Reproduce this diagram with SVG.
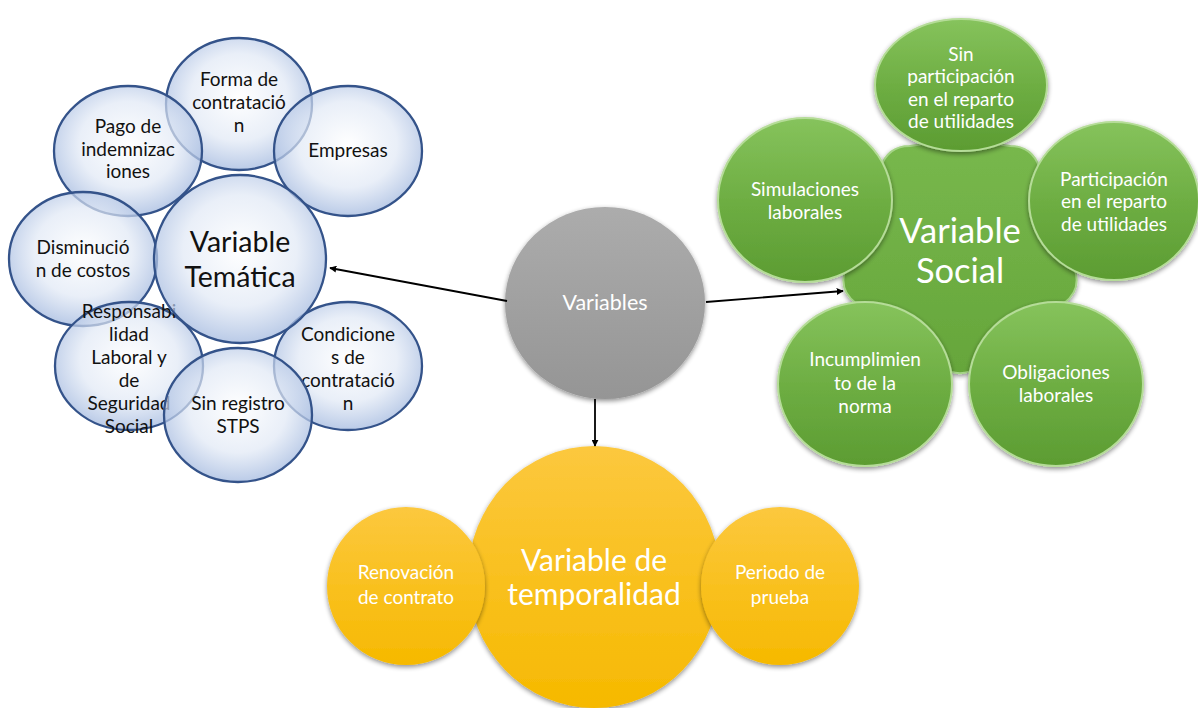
<svg xmlns="http://www.w3.org/2000/svg" width="1198" height="708" viewBox="0 0 1198 708">
  <defs>
    <style>
      .t { font-family: Lato, "Open Sans", "Liberation Sans", sans-serif; text-anchor: middle; }
      .blue { fill: url(#gBlue); stroke: #34538a; stroke-width: 2.3; }
      .bt { fill: #111; font-size: 19px; }
      .green { fill: url(#gGreen); stroke: #b5dc98; stroke-width: 2; filter: url(#shadow); }
      .wt { fill: #ffffff; font-size: 19px; }
      .yellow { fill: url(#gYellow); filter: url(#shadow); }
      .conn { stroke: #000; stroke-width: 1.8; fill: none; marker-end: url(#arrow); }
    </style>
    <radialGradient id="gBlue" cx="50%" cy="45%" r="55%">
      <stop offset="0" stop-color="#ffffff" stop-opacity="0.75"/>
      <stop offset="0.6" stop-color="#e0e8f5" stop-opacity="0.7"/>
      <stop offset="1" stop-color="#a3b9df" stop-opacity="0.75"/>
    </radialGradient>
    <linearGradient id="gGreen" x1="0" y1="0" x2="0" y2="1">
      <stop offset="0" stop-color="#86c35c"/>
      <stop offset="0.5" stop-color="#6eae43"/>
      <stop offset="1" stop-color="#5c9c32"/>
    </linearGradient>
    <linearGradient id="gGreenC" gradientUnits="userSpaceOnUse" x1="0" y1="140" x2="0" y2="380">
      <stop offset="0" stop-color="#78b84d"/>
      <stop offset="1" stop-color="#65a53a"/>
    </linearGradient>
    <linearGradient id="gYellow" x1="0" y1="0" x2="0" y2="1">
      <stop offset="0" stop-color="#fcc83e"/>
      <stop offset="1" stop-color="#f6b900"/>
    </linearGradient>
    <linearGradient id="gGray" x1="0" y1="0" x2="0" y2="1">
      <stop offset="0" stop-color="#acacac"/>
      <stop offset="1" stop-color="#959595"/>
    </linearGradient>
    <filter id="shadow" x="-20%" y="-20%" width="140%" height="140%">
      <feGaussianBlur in="SourceAlpha" stdDeviation="2.5"/>
      <feOffset dx="0" dy="2" result="b"/>
      <feComponentTransfer><feFuncA type="linear" slope="0.45"/></feComponentTransfer>
      <feMerge><feMergeNode/><feMergeNode in="SourceGraphic"/></feMerge>
    </filter>
    <marker id="arrow" viewBox="0 0 10 10" refX="9" refY="5" markerWidth="7" markerHeight="7" orient="auto" markerUnits="userSpaceOnUse">
      <path d="M0,0 L10,5 L0,10 z" fill="#000"/>
    </marker>
  </defs>

  <rect width="1198" height="708" fill="#ffffff"/>

  <!-- Thematic cluster -->
  <g id="tematica">
    <g id="forma"><ellipse class="blue" cx="239" cy="104" rx="73" ry="66"/>
      <text class="t bt" x="239" y="86">Forma de</text><text class="t bt" x="239" y="109">contratació</text><text class="t bt" x="239" y="132">n</text></g>
    <g id="pago"><ellipse class="blue" cx="128" cy="151" rx="74" ry="65"/>
      <text class="t bt" x="128" y="133">Pago de</text><text class="t bt" x="128" y="156">indemnizac</text><text class="t bt" x="128" y="178">iones</text></g>
    <g id="empresas"><ellipse class="blue" cx="348" cy="151" rx="74" ry="65"/>
      <text class="t bt" x="348" y="157">Empresas</text></g>
    <g id="disminucion"><ellipse class="blue" cx="83" cy="259" rx="74" ry="67"/>
      <text class="t bt" x="83" y="254">Disminució</text><text class="t bt" x="83" y="277">n de costos</text></g>
    <g id="responsabilidad"><ellipse class="blue" cx="129" cy="366" rx="74" ry="64"/>
      <text class="t bt" x="129" y="318">Responsabi</text><text class="t bt" x="129" y="341">lidad</text><text class="t bt" x="129" y="364">Laboral y</text><text class="t bt" x="129" y="387">de</text><text class="t bt" x="129" y="410">Seguridad</text><text class="t bt" x="129" y="433">Social</text></g>
    <g id="condiciones"><ellipse class="blue" cx="348" cy="366" rx="74" ry="64"/>
      <text class="t bt" x="348" y="341">Condicione</text><text class="t bt" x="348" y="364">s de</text><text class="t bt" x="348" y="387">contratació</text><text class="t bt" x="348" y="410">n</text></g>
    <g id="sinregistro"><ellipse class="blue" cx="238" cy="415" rx="74" ry="67"/>
      <text class="t bt" x="238" y="410">Sin registro</text><text class="t bt" x="238" y="433">STPS</text></g>
    <g id="tematica-centro"><ellipse class="blue" cx="240" cy="259" rx="86" ry="84"/>
      <text class="t" x="240" y="252" font-size="28.5" fill="#111">Variable</text><text class="t" x="240" y="287" font-size="28.5" fill="#111">Temática</text></g>
  </g>

  <!-- Social cluster -->
  <g id="social">
    <g id="social-centro">
      <path d="M909.6,146 Q960,138 1010.4,146 Q1032,146 1039.5,167.6 Q1066.5,214.7 1074.5,268.4 Q1082,290 1063.7,303.5 Q1026.9,343 978.3,366.5 Q960,380 941.7,366.5 Q893.1,343 856.3,303.5 Q838,290 845.5,268.4 Q853.5,214.7 880.5,167.6 Q888,146 909.6,146 Z" fill="url(#gGreenC)" stroke="#a6d488" stroke-width="2" filter="url(#shadow)"/>
    </g>
    <g id="sinparticipacion"><ellipse class="green" cx="961" cy="85" rx="86" ry="66"/>
      <text class="t wt" x="961" y="61">Sin</text><text class="t wt" x="961" y="83">participación</text><text class="t wt" x="961" y="106">en el reparto</text><text class="t wt" x="961" y="128">de utilidades</text></g>
    <g id="simulaciones"><ellipse class="green" cx="805" cy="200" rx="87" ry="82"/>
      <text class="t wt" x="805" y="196">Simulaciones</text><text class="t wt" x="805" y="219">laborales</text></g>
    <g id="participacion"><ellipse class="green" cx="1114" cy="201" rx="85" ry="79"/>
      <text class="t wt" x="1114" y="186">Participación</text><text class="t wt" x="1114" y="208">en el reparto</text><text class="t wt" x="1114" y="231">de utilidades</text></g>
    <g id="incumplimiento"><ellipse class="green" cx="865" cy="384" rx="87" ry="82"/>
      <text class="t wt" x="865" y="366">Incumplimien</text><text class="t wt" x="865" y="390">to de la</text><text class="t wt" x="865" y="413">norma</text></g>
    <g id="obligaciones"><ellipse class="green" cx="1056" cy="384" rx="87" ry="82"/>
      <text class="t wt" x="1056" y="379">Obligaciones</text><text class="t wt" x="1056" y="402">laborales</text></g>
    <text class="t" x="960" y="243" font-size="34.5" fill="#fff">Variable</text>
    <text class="t" x="960" y="283" font-size="34.5" fill="#fff">Social</text>
  </g>

  <!-- Temporality cluster -->
  <g id="temporalidad">
    <g id="temporalidad-centro"><ellipse class="yellow" cx="594" cy="577" rx="126" ry="131"/></g>
    <g id="renovacion"><circle class="yellow" cx="406" cy="586" r="79"/>
      <text class="t wt" x="406" y="579">Renovación</text><text class="t wt" x="406" y="604">de contrato</text></g>
    <g id="periodo"><circle class="yellow" cx="780" cy="586" r="79"/>
      <text class="t wt" x="780" y="579">Periodo de</text><text class="t wt" x="780" y="604">prueba</text></g>
    <text class="t" x="594" y="571" font-size="30" fill="#fff">Variable de</text>
    <text class="t" x="594" y="605" font-size="30" fill="#fff">temporalidad</text>
  </g>

  <!-- Root -->
  <g id="variables">
    <ellipse cx="605" cy="303" rx="100" ry="96" fill="url(#gGray)" filter="url(#shadow)"/>
    <text class="t" x="605" y="310" font-size="21.5" fill="#fff">Variables</text>
  </g>

  <!-- Connectors -->
  <g id="connectors">
    <line class="conn" x1="507" y1="301" x2="330" y2="268"/>
    <line class="conn" x1="706" y1="302" x2="843" y2="291"/>
    <line class="conn" x1="595" y1="399" x2="595" y2="446"/>
  </g>
</svg>
